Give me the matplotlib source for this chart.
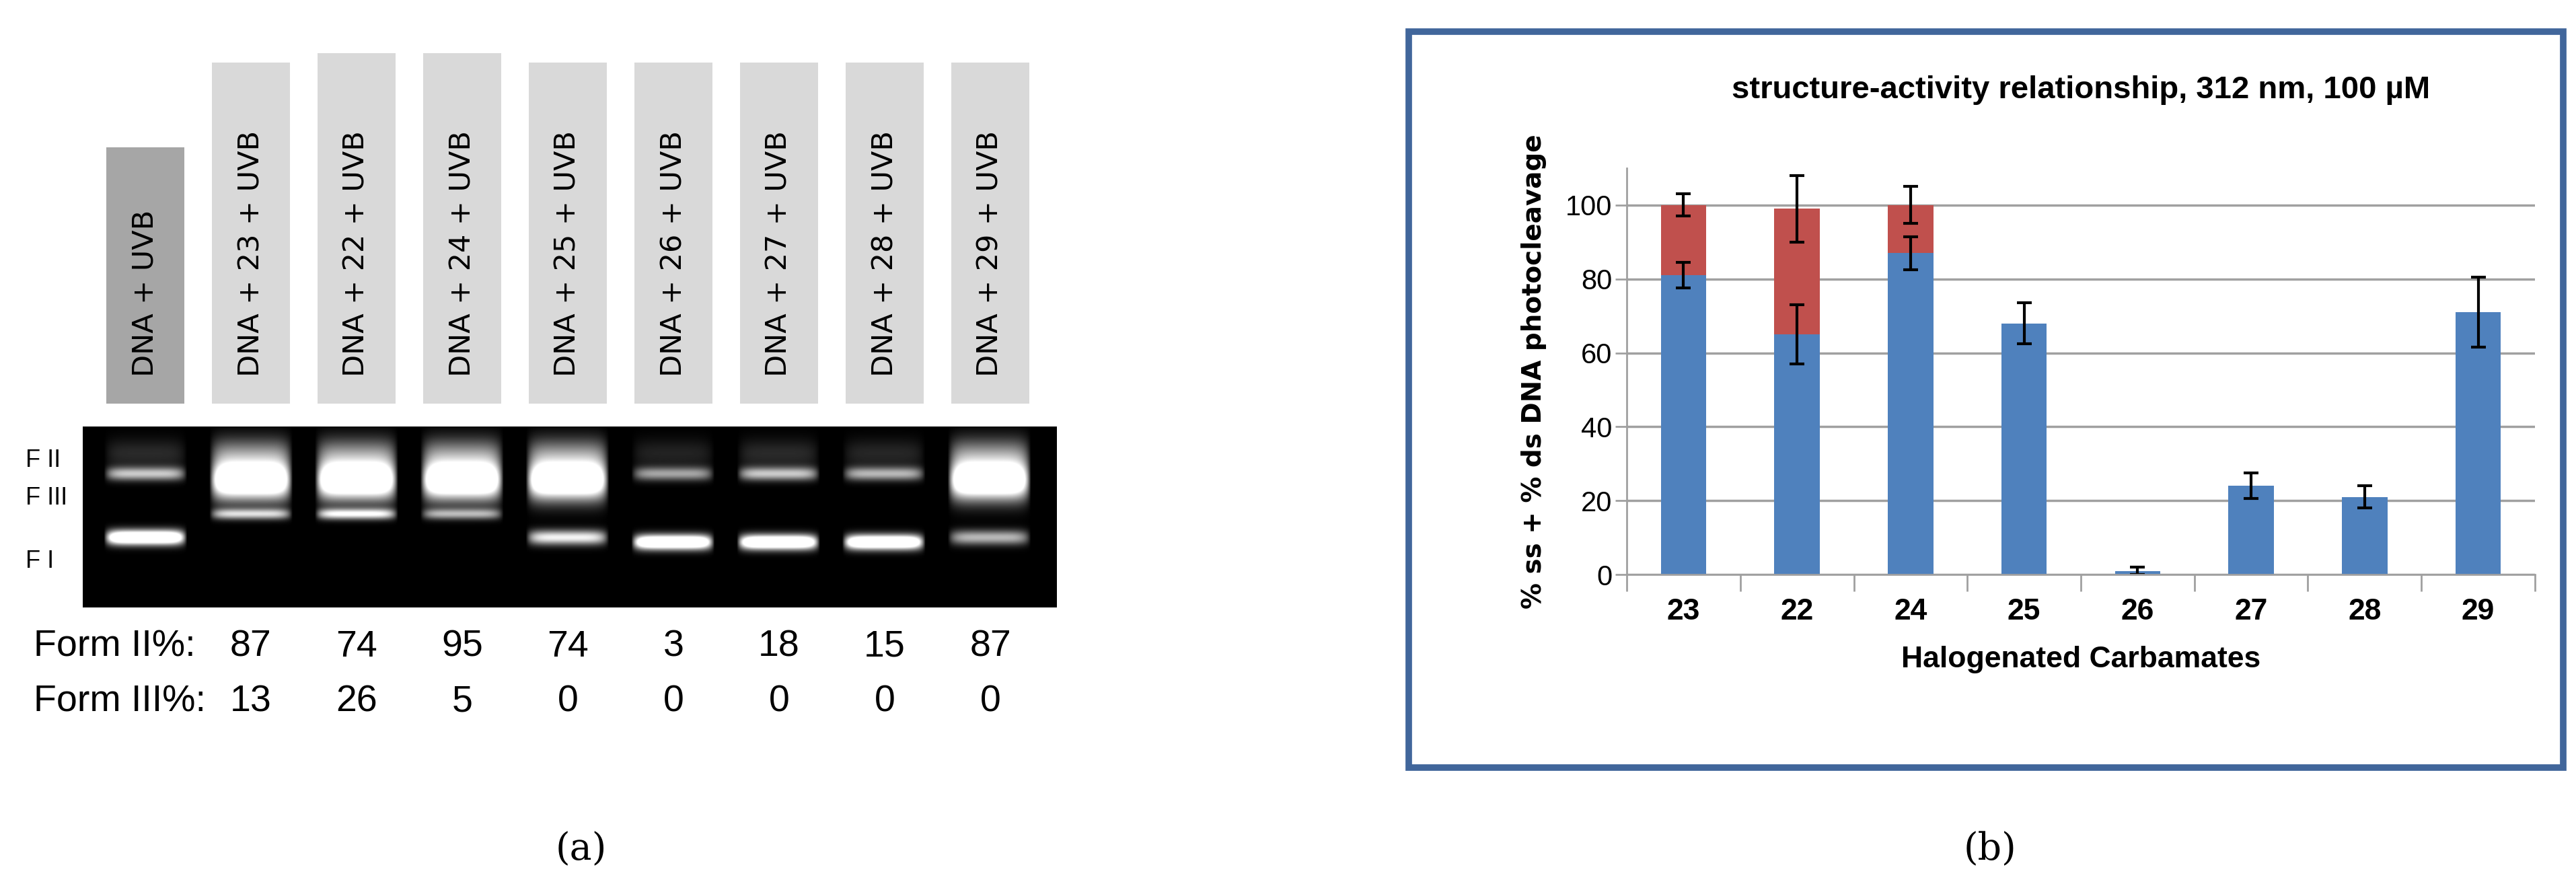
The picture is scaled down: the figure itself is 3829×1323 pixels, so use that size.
import numpy as np
import matplotlib
matplotlib.use('agg')
import matplotlib.pyplot as plt
from matplotlib.patches import Rectangle

plt.rcParams['font.family'] = ['Liberation Sans Narrow', 'Liberation Sans', 'DejaVu Sans']

# ---- panel (a) data ----
lane_labels = ['DNA + UVB', 'DNA + 23 + UVB', 'DNA + 22 + UVB', 'DNA + 24 + UVB', 'DNA + 25 + UVB',
               'DNA + 26 + UVB', 'DNA + 27 + UVB', 'DNA + 28 + UVB', 'DNA + 29 + UVB']
form2 = ['87', '74', '95', '74', '3', '18', '15', '87']
form3 = ['13', '26', '5', '0', '0', '0', '0', '0']
# band intensities per lane: form II, form III, form I
band_f2 = [0.55, 1.0, 1.0, 1.0, 1.0, 0.45, 0.55, 0.5, 1.0]
band_f3 = [0.0, 0.55, 0.65, 0.45, 0.0, 0.0, 0.0, 0.0, 0.0]
band_f1 = [1.0, 0.0, 0.0, 0.0, 0.6, 1.0, 1.0, 1.0, 0.45]

# ---- panel (b) data ----
compounds = ['23', '22', '24', '25', '26', '27', '28', '29']
ds_val = [81, 65, 87, 68, 1, 24, 21, 71]
ds_err = [3.5, 8, 4.5, 5.5, 1, 3.5, 3, 9.5]
ss_val = [19, 34, 13, 0, 0, 0, 0, 0]
ss_err = [3, 9, 5, 0, 0, 0, 0, 0]

fig = plt.figure(figsize=(38.29, 13.23), dpi=100)
bg = fig.add_axes([0, 0, 1, 1])
bg.set_xlim(0, 3829)
bg.set_ylim(1323, 0)
bg.axis('off')

lane_x = [216 + 157 * i for i in range(9)]
box_top = [219, 93, 79, 79, 93, 93, 93, 93, 93]
for i, lab in enumerate(lane_labels):
    col = '#a6a6a6' if i == 0 else '#d9d9d9'
    bg.add_patch(Rectangle((lane_x[i] - 58, box_top[i]), 116, 600 - box_top[i], color=col, lw=0))
    bg.text(lane_x[i], 560, lab, rotation=90, ha='center', va='bottom', fontsize=31,
            family='DejaVu Sans', color='black')

# gel image
gx0, gx1, gy0, gy1 = 123, 1571, 634, 903
H, W = 270, 1450
yy, xx = np.mgrid[0:H, 0:W]
img = np.zeros((H, W))
for i in range(9):
    cx = lane_x[i] - gx0
    wx = np.clip(1 - (np.abs(xx - cx) / 62) ** 6, 0, 1)
    f2 = band_f2[i]
    if f2 > 0.8:
        prof = np.exp(-((yy - 80) / 28) ** 2) * 1.6 + np.exp(-((yy - 40) / 25) ** 2) * 0.5
    else:
        prof = np.exp(-((yy - 70) / 10) ** 2) * 1.4 + np.exp(-((yy - 40) / 22) ** 2) * 0.3
    img += f2 * prof * wx
    img += band_f3[i] * np.exp(-((yy - 130) / 8) ** 2) * 1.5 * wx
    y1 = 165 if i in (0, 4, 8) else 172
    img += band_f1[i] * np.exp(-((yy - y1) / 11) ** 2) * 1.6 * wx
bg.imshow(np.clip(img, 0, 1), cmap='gray', vmin=0, vmax=1, extent=[gx0, gx1, gy1, gy0],
          aspect='auto', interpolation='bilinear')

for t, y in [('F II', 685), ('F III', 740), ('F I', 835)]:
    bg.text(38, y, t, fontsize=26, va='center', ha='left')

bg.text(50, 962, 'Form II%:', fontsize=40, va='center', ha='left')
bg.text(50, 1043, 'Form III%:', fontsize=40, va='center', ha='left')
for i in range(8):
    bg.text(lane_x[i + 1], 962, form2[i], fontsize=40, va='center', ha='center')
    bg.text(lane_x[i + 1], 1043, form3[i], fontsize=40, va='center', ha='center')

bg.text(864, 1263, '(a)', fontsize=40, va='center', ha='center', family='DejaVu Serif')
bg.text(2958, 1263, '(b)', fontsize=40, va='center', ha='center', family='DejaVu Serif')

# frame of panel (b)
bg.add_patch(Rectangle((2094, 47), 1716, 1094, fill=False, ec='#41669b', lw=7))

# ---- bar chart ----
ax = fig.add_axes([2418 / 3829, 1 - 854 / 1323, 1350 / 3829, (854 - 250) / 1323])
x = np.arange(len(compounds))
ax.bar(x, ds_val, width=0.4, color='#4f81bd')
ax.bar(x, ss_val, width=0.4, bottom=ds_val, color='#c0504d')
ax.errorbar(x, ds_val, yerr=ds_err, fmt='none', ecolor='black', elinewidth=3, capsize=8, capthick=3)
tops = np.array(ds_val) + np.array(ss_val)
m = np.array(ss_val) > 0
ax.errorbar(x[m], tops[m], yerr=np.array(ss_err)[m], fmt='none', ecolor='black', elinewidth=3,
            capsize=8, capthick=3)
ax.set_xlim(-0.5, len(compounds) - 0.5)
ax.set_ylim(0, 110)
ax.set_yticks([0, 20, 40, 60, 80, 100])
ax.yaxis.grid(True, color='#a0a0a0', lw=2.5)
ax.set_axisbelow(True)
for s in ['top', 'right']:
    ax.spines[s].set_visible(False)
ax.spines['left'].set_color('#a0a0a0')
ax.spines['bottom'].set_color('#a0a0a0')
ax.spines['left'].set_linewidth(2)
ax.spines['bottom'].set_linewidth(2)
ax.set_xticks(np.arange(len(compounds) + 1) - 0.5, minor=False)
ax.set_xticklabels([])
ax.set_xticks(x, minor=True)
ax.set_xticklabels(compounds, minor=True, fontsize=32, fontweight='bold')
ax.tick_params(axis='x', which='major', length=18, width=2, color='#a0a0a0')
ax.tick_params(axis='x', which='minor', length=0, pad=25)
ax.tick_params(axis='y', length=12, width=2, color='#a0a0a0', labelsize=30)
ax.set_xlabel('Halogenated Carbamates', fontsize=32, fontweight='bold', labelpad=22)
ax.set_ylabel('% ss + % ds DNA photocleavage', fontsize=28, fontweight='bold',
              family='DejaVu Sans', labelpad=20)
ax.set_title('structure-activity relationship, 312 nm, 100 µM', fontsize=34, fontweight='bold', pad=75)

fig.savefig('out.png', dpi=100)
